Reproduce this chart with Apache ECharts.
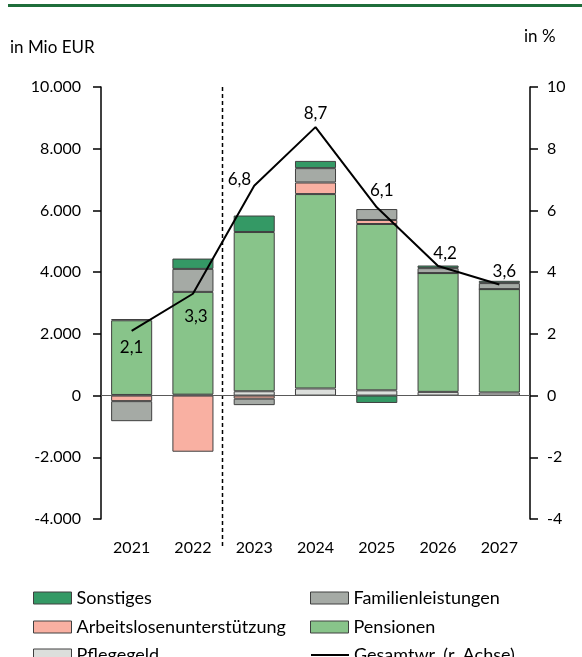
<!DOCTYPE html>
<html>
<head>
<meta charset="utf-8">
<script src="https://cdn.jsdelivr.net/npm/echarts@6/dist/echarts.min.js"></script>
<style>
html,body{margin:0;padding:0;background:#fff;}
#c{width:582px;height:657px;}
</style>
</head>
<body>
<div id="c"></div>
<script>
const categories = ['2021', '2022', '2023', '2024', '2025', '2026', '2027'];
const pflegegeld = [20, 30, 140, 230, 170, 120, 100];
const pensionen = [2420, 3330, 5160, 6300, 5390, 3850, 3350];
const arbeitslosen = [-180, -1820, -100, 375, 130, 0, 0];
const familien = [-650, 745, -210, 465, 355, 160, 195];
const sonstiges = [40, 335, 535, 235, -240, 85, 75];
const gesamt = [2.1, 3.3, 6.8, 8.7, 6.1, 4.2, 3.6];
const leftTicks = { min: -4000, max: 10000, interval: 2000 };
const rightTicks = { min: -4, max: 10, interval: 2 };
const legendNames = [
  'Sonstiges', 'Familienleistungen',
  'Arbeitslosenunterstützung', 'Pensionen',
  'Pflegegeld', 'Gesamtwr. (r. Achse)'
];
const LINE_NAME = 'Gesamtwr. (r. Achse)';

const FONT = 'Lato';
const chart = echarts.init(document.getElementById('c'), null, { renderer: 'canvas' });

const labelCfg = [
  { position: 'bottom', distance: 8, offset: [0, 0] },
  { position: 'bottom', distance: 14, offset: [3, 0] },
  { position: 'left', distance: 3, offset: [0, -6] },
  { position: 'top', distance: 5, offset: [0, 0] },
  { position: 'top', distance: 8, offset: [5, 0] },
  { position: 'top', distance: 4, offset: [7, 0] },
  { position: 'top', distance: 4, offset: [5, 0] }
];

function fmtThousands(v) {
  const s = Math.abs(v).toString().replace(/\B(?=(\d{3})+(?!\d))/g, '.');
  return (v < 0 ? '-' : '') + s;
}

const border = { borderColor: '#404040', borderWidth: 1 };
function barSeries(name, data, color, extra) {
  return Object.assign({
    name: name,
    type: 'bar',
    stack: 'total',
    barWidth: '67%',
    data: data,
    itemStyle: Object.assign({ color: color }, border),
    emphasis: { disabled: true }
  }, extra || {});
}

const legendCols = [33, 310];
const legendRows = [589, 618, 646];
const legends = legendNames.map((n, i) => {
  const isLine = n === LINE_NAME;
  const lg = {
    orient: 'horizontal',
    left: legendCols[i % 2],
    top: legendRows[Math.floor(i / 2)],
    padding: 0,
    itemWidth: 38, itemHeight: 12,
    selectedMode: false,
    data: [isLine ? { name: n, itemStyle: { opacity: 0 } } : n],
    textStyle: { fontSize: 18, color: '#000', fontFamily: FONT, lineHeight: 18 }
  };
  if (!isLine) {
    lg.icon = 'rect';
    lg.itemStyle = { borderWidth: 1, borderColor: '#404040' };
  }
  return lg;
});

const staticGraphics = [
  { type: 'rect', shape: { x: 8, y: 4, width: 574, height: 3 }, style: { fill: '#1f6e3b' }, silent: true },
  { type: 'text', left: 10, top: 39, style: { text: 'in Mio EUR', fontSize: 17, fontFamily: FONT, fill: '#000' } },
  { type: 'text', left: 524, top: 28, style: { text: 'in %', fontSize: 17, fontFamily: FONT, fill: '#000' } }
];

const option = {
  animation: false,
  backgroundColor: '#ffffff',
  textStyle: { fontFamily: FONT },
  grid: { left: 101, right: 52, top: 87, bottom: 138, containLabel: false },
  xAxis: {
    type: 'category',
    data: categories,
    axisLine: { show: false },
    axisTick: { show: false },
    axisLabel: { fontSize: 16, color: '#000', margin: 21, fontFamily: FONT }
  },
  yAxis: [
    {
      type: 'value',
      min: leftTicks.min, max: leftTicks.max, interval: leftTicks.interval,
      axisLine: { show: true, lineStyle: { color: '#000', width: 1.5 } },
      axisTick: { show: true, length: 8, lineStyle: { color: '#000', width: 1.5 } },
      splitLine: { show: false },
      axisLabel: { fontSize: 16, color: '#000', margin: 20, fontFamily: FONT, formatter: fmtThousands }
    },
    {
      type: 'value',
      position: 'right',
      min: rightTicks.min, max: rightTicks.max, interval: rightTicks.interval,
      axisLine: { show: true, lineStyle: { color: '#000', width: 1.5 } },
      axisTick: { show: true, length: 8, lineStyle: { color: '#000', width: 1.5 } },
      splitLine: { show: false },
      axisLabel: { fontSize: 16, color: '#000', margin: 17, fontFamily: FONT }
    }
  ],
  legend: legends,
  graphic: staticGraphics,
  series: [
    barSeries('Pflegegeld', pflegegeld, '#dcdfdc'),
    barSeries('Pensionen', pensionen, '#88c48a'),
    barSeries('Arbeitslosenunterstützung', arbeitslosen, '#f9b0a2'),
    barSeries('Familienleistungen', familien, '#a5aaa5'),
    barSeries('Sonstiges', sonstiges, '#349965', {
      markLine: {
        silent: true,
        symbol: ['none', 'none'],
        label: { show: false },
        lineStyle: { color: '#595959', width: 1, type: 'solid' },
        data: [{ yAxis: 0 }]
      }
    }),
    {
      name: LINE_NAME,
      type: 'line',
      yAxisIndex: 1,
      z: 10,
      symbol: 'circle',
      symbolSize: 0.01,
      showSymbol: true,
      lineStyle: { color: '#000', width: 2 },
      itemStyle: { color: '#000' },
      emphasis: { disabled: true },
      label: {
        show: true, fontSize: 17, color: '#000', fontFamily: FONT,
        formatter: p => String(p.value).replace('.', ',')
      },
      data: gesamt.map((v, i) => ({ value: v, label: labelCfg[i] }))
    }
  ]
};

chart.setOption(option);

// dashed separator between 2022 and 2023, positioned via the axis scales
const xa = chart.convertToPixel({ xAxisIndex: 0 }, categories[1]);
const xb = chart.convertToPixel({ xAxisIndex: 0 }, categories[2]);
const yTop = chart.convertToPixel({ yAxisIndex: 0 }, leftTicks.max);
const yBot = chart.convertToPixel({ yAxisIndex: 0 }, leftTicks.min);
const xm = Math.round((xa + xb) / 2) - 1.5;
chart.setOption({
  graphic: staticGraphics.concat([{
    type: 'line', silent: true, z: 5,
    shape: { x1: xm, y1: yTop, x2: xm, y2: yBot + 29 },
    style: { stroke: '#000', lineWidth: 1.5, lineDash: [4, 3] }
  }])
});
</script>
</body>
</html>
